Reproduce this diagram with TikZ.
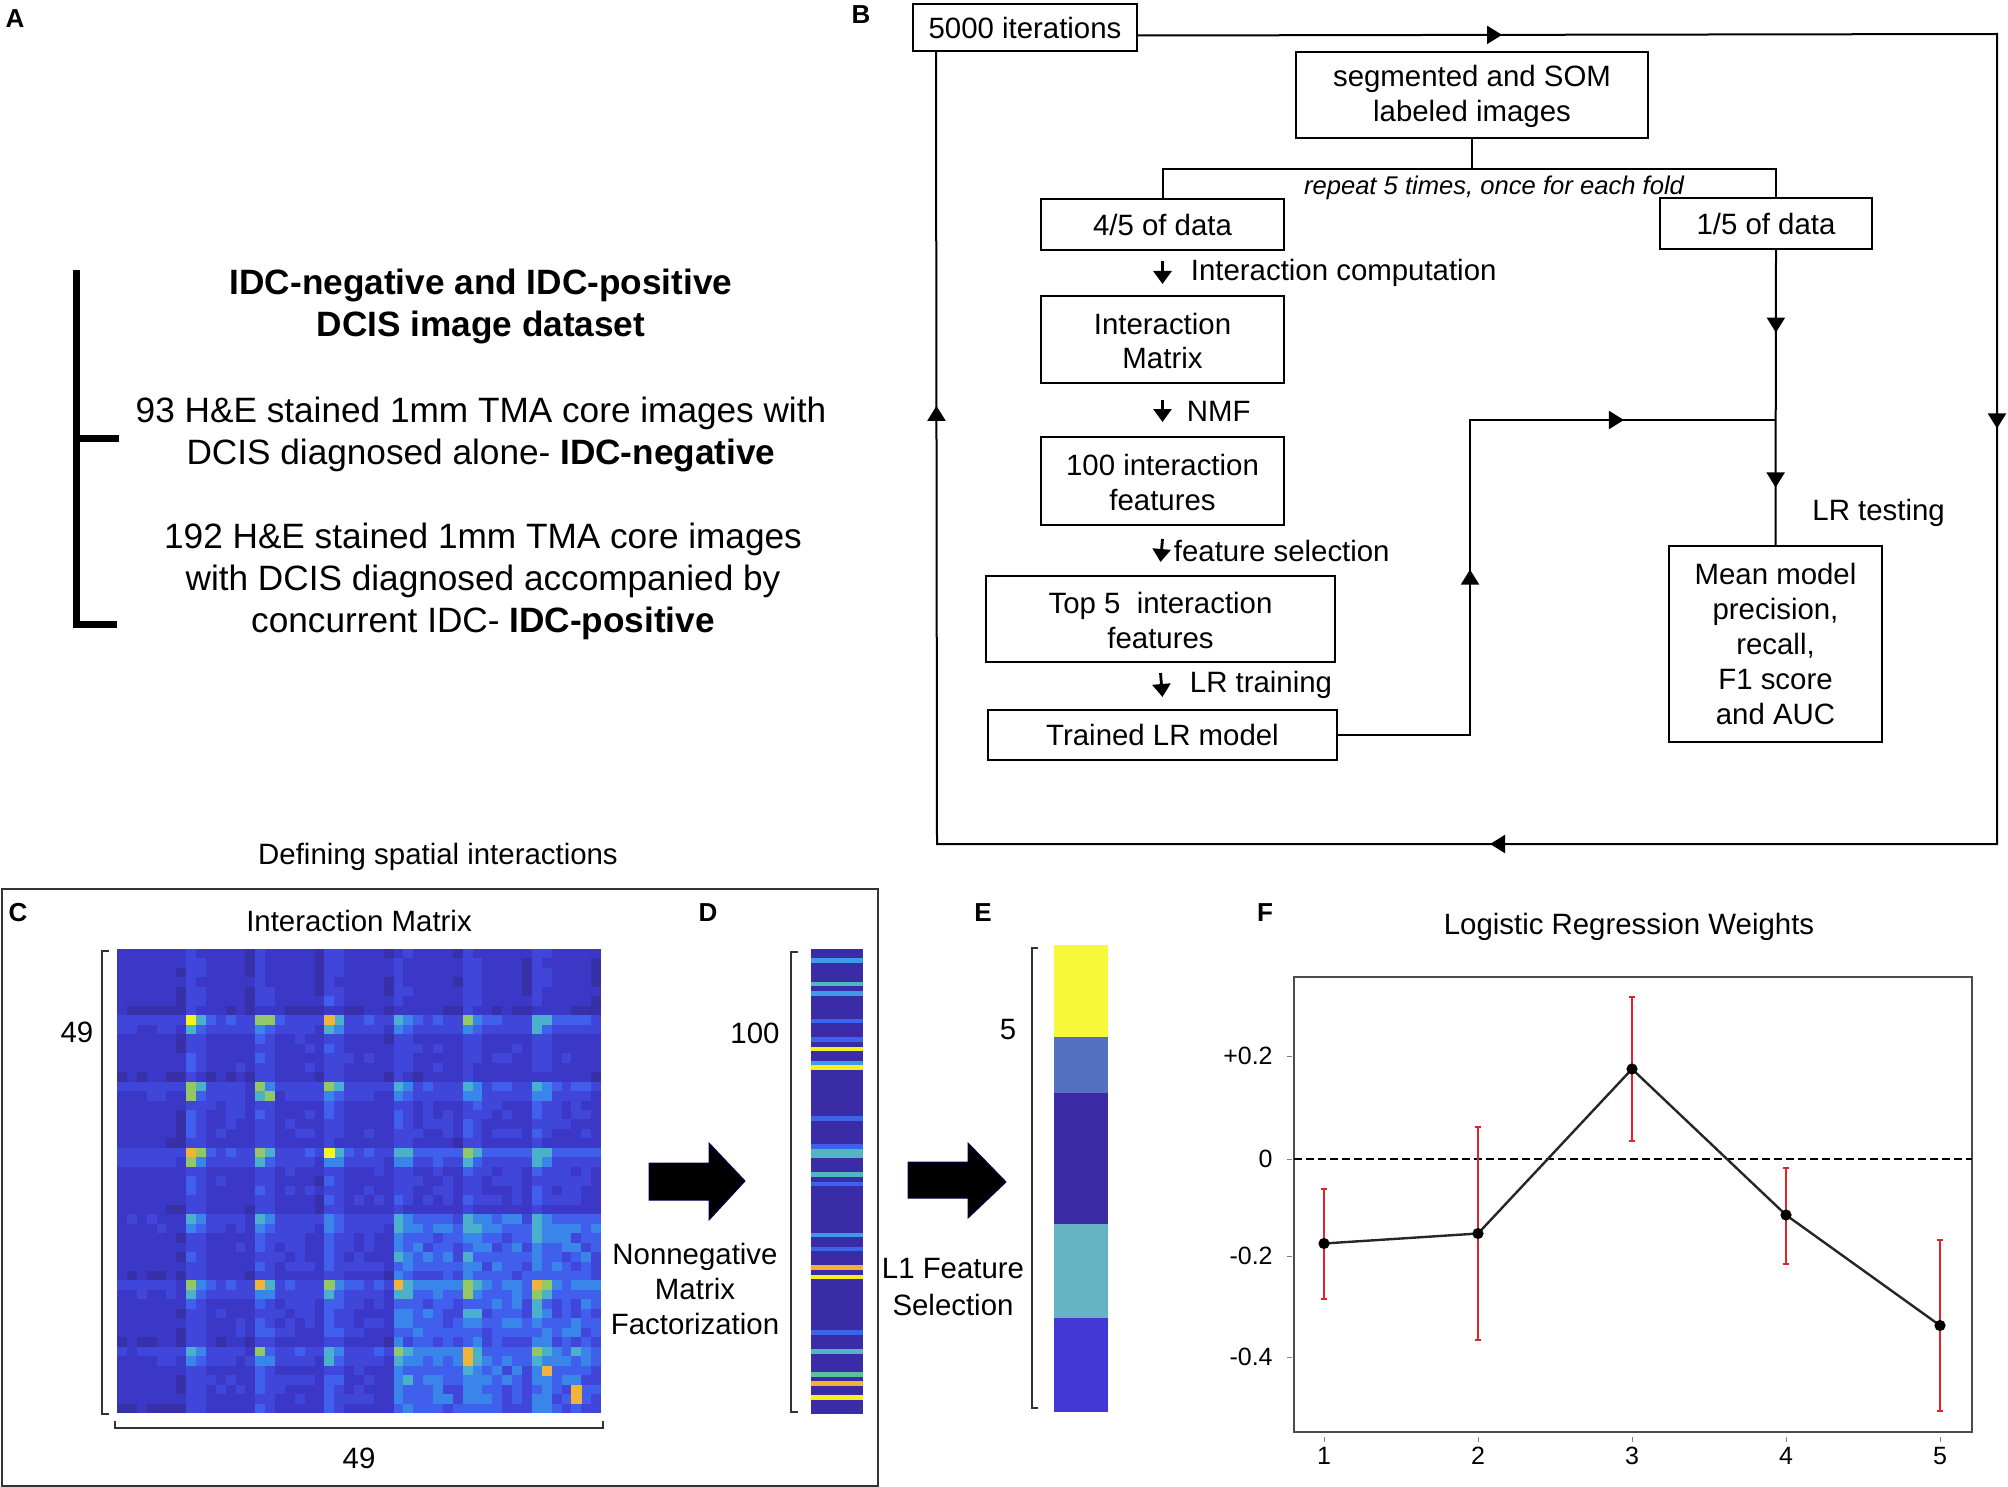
\documentclass[tikz,border=0pt]{standalone}
\usepackage{fontspec}
\setmainfont{Liberation Sans}
\usepackage{xcolor}
\definecolor{hm0}{HTML}{3730A8}
\definecolor{hm1}{HTML}{3B38C8}
\definecolor{hm2}{HTML}{4046DA}
\definecolor{hm3}{HTML}{3F5FEC}
\definecolor{hm4}{HTML}{3A85EA}
\definecolor{hm5}{HTML}{4AB0CC}
\definecolor{hm6}{HTML}{92C865}
\definecolor{hm7}{HTML}{F0B43A}
\definecolor{hm8}{HTML}{F8F31A}
\definecolor{navy}{HTML}{3A2CA6}
\definecolor{lblue}{HTML}{3D9BE8}
\definecolor{teal}{HTML}{52B6BF}
\definecolor{mblue}{HTML}{3F62EE}
\definecolor{yel}{HTML}{F6F01C}
\definecolor{ora}{HTML}{F2B134}
\definecolor{tgreen}{HTML}{5CC09A}
\definecolor{selA}{HTML}{F8F83A}
\definecolor{selB}{HTML}{5470C0}
\definecolor{selC}{HTML}{3A2BA5}
\definecolor{selD}{HTML}{64B4C4}
\definecolor{selE}{HTML}{4338D6}
\definecolor{errred}{HTML}{E8202A}
\usetikzlibrary{arrows.meta}
\usetikzlibrary{decorations.markings}

\begin{document}
\begin{tikzpicture}[x=0.5pt, y=-0.5pt,
    stage/.style={shape=rectangle, draw, line width=1pt, align=center, inner sep=0pt, font=\fontsize{14.7}{17.4}\selectfont},
    link/.style={line width=1pt},
    tipat/.style={postaction={decorate, decoration={markings, mark=at position #1 with {\arrow{Triangle[length=7.5pt, width=9pt]}}}}},
    pointer/.style={line width=1.4pt, -{Triangle[length=6.5pt, width=9pt]}},
    note/.style={inner sep=0pt, font=\fontsize{14.7}{17.4}\selectfont},
    tick/.style={inner sep=0pt, font=\fontsize{12.5}{14}\selectfont},
    panel/.style={inner sep=0pt, font=\fontsize{13}{13}\selectfont\bfseries},
    big/.style={inner sep=0pt, align=center, font=\fontsize{17.6}{21}\selectfont},
    bracket/.style={line width=0.6pt, draw=black!80},
    fat/.style={fill=black, draw=black!70!blue, line width=0.5pt}]

    \useasboundingbox (0,0) rectangle (2008,1487);

    \node[panel] (la) at (15,19) {A};
    \node[panel] (lb) at (861,15) {B};
    \node[panel] (lc) at (18,913) {C};
    \node[panel] (ld) at (708,913) {D};
    \node[panel] (le) at (983,913) {E};
    \node[panel] (lf) at (1265,913) {F};

    \draw[line width=3.5pt] (76,270) -- (76,624) -- (117,624);
    \draw[line width=3.5pt] (76,438) -- (119,438);
    \node[big, font=\fontsize{17.6}{21}\selectfont\bfseries] (dataset) at (481,306) {IDC-negative and IDC-positive\\DCIS image dataset};
    \node[big] (negset) at (481,434.5) {93 H\&E stained 1mm TMA core images with\\DCIS diagnosed alone- \textbf{IDC-negative}};
    \node[big] (posset) at (483,581) {192 H\&E stained 1mm TMA core images\\with DCIS diagnosed accompanied by\\concurrent IDC- \textbf{IDC-positive}};

    \node[stage, minimum width=112pt, minimum height=23.5pt] (iters) at (1025,27.5) {5000 iterations};
    \node[stage, minimum width=176pt, minimum height=43pt] (som) at (1472,95) {\strut segmented and SOM\\labeled images};
    \node[stage, minimum width=121.5pt, minimum height=25.5pt] (four) at (1162.5,224.5) {4/5 of data};
    \node[stage, minimum width=106pt, minimum height=25.5pt] (one) at (1766,223.5) {1/5 of data};
    \node[stage, minimum width=121.5pt, minimum height=43.5pt] (imat) at (1162.5,339.5) {\strut Interaction\\Matrix};
    \node[stage, minimum width=121.5pt, minimum height=44pt] (hund) at (1162.5,481) {\strut 100 interaction\\features};
    \node[stage, minimum width=174.5pt, minimum height=43pt] (top5) at (1160.5,619) {\strut Top 5\ \ interaction\\features};
    \node[stage, minimum width=174.5pt, minimum height=25pt] (trained) at (1162.5,735) {Trained LR model};
    \node[stage, minimum width=106.5pt, minimum height=98pt] (mean) at (1775.5,644) {Mean model\\precision,\\recall,\\F1 score\\and AUC};

    \coordinate (ne) at (1997,34);
    \coordinate (se) at (1997,844);
    \coordinate (sw) at (937,844);
    \coordinate (fork) at (1472,169);
    \coordinate (bend) at (1470,420);
    \coordinate (join) at (1776,420);

    \draw[link, tipat=0.1034, tipat=0.356, tipat=0.618, tipat=0.8995] ([yshift=-4pt]iters.east) -- (ne) -- (se) -- (sw) -- ([xshift=12pt]iters.south west);
    \draw[link] (som.south) -- (fork);
    \draw[link] (four.north) |- (fork) -| ([xshift=5pt]one.north);
    \node[note, font=\fontsize{12.8}{14}\selectfont\itshape] (fold) at (1494,188) {repeat 5 times, once for each fold};
    \draw[link, tipat=0.28, tipat=0.805] ([xshift=5pt]one.south) -- (mean.north);
    \draw[link, tipat=0.395, tipat=0.798] (trained.east) -| (bend) -- (join);
    \node[note, anchor=west] (test) at (1812,513) {LR testing};

    \draw[pointer] ([yshift=-5pt]four.south) -- node[note, right=13.5pt] {Interaction computation} ([yshift=5.5pt]imat.north);
    \draw[pointer] ([yshift=-8pt]imat.south) -- node[note, right=11.5pt] {NMF} ([yshift=7pt]hund.north);
    \draw[pointer] ([yshift=-6.5pt]hund.south) -- node[note, right=5.5pt] {feature selection} ([yshift=6.5pt]top5.north);
    \draw[pointer] ([yshift=-5pt]top5.south) -- node[note, right=13.5pt] {LR training} ([yshift=6pt]trained.north);

    \node[note] (spatial) at (438,857) {Defining spatial interactions};
    \draw[line width=1pt, draw=black!80] (1.5,889) rectangle (878,1485.5);
    \node[note] (imtitle) at (359,921) {Interaction Matrix};

    \pgfmathsetseed{11}
    \foreach \i in {0,...,48} {
        \foreach \j in {0,...,48} {
            \pgfmathtruncatemacro{\gi}{div(\i,7)}
            \pgfmathtruncatemacro{\ri}{mod(\i,7)}
            \pgfmathtruncatemacro{\gj}{div(\j,7)}
            \pgfmathtruncatemacro{\rj}{mod(\j,7)}
            \pgfmathsetmacro{\ai}{{0,1,0.7,1,0.5,0.8,0.6}[\gi]*((\ri==0)+0.6*(\ri==1))}
            \pgfmathsetmacro{\aj}{{0,1,0.9,1,0.6,0.8,0.7}[\gj]*((\rj==0)+0.6*(\rj==1))}
            \pgfmathsetmacro{\br}{(\gi>3)*(\gj>3)*(0.4+1.6*rnd)+(\gi>3)*(\gj>1)*0.3+(\gj>3)*(\gi>1)*0.3}
            \pgfmathtruncatemacro{\lev}{max(0,min(8,1.35+0.75*rnd+1.3*(\ai+\aj)+3.4*\ai*\aj*(0.5+0.7*rnd)+\br-0.3*((\gi==0)||(\gj==0))-0.4*((\ri==6)+(\rj==6))))}
            \fill[hm\lev] ({117+\j*9.878},{949+\i*9.47}) rectangle ++(10.3,9.9);
        }
    }
    \foreach \r/\c/\k in {7/7/8, 21/21/8, 7/21/7, 21/7/7, 44/43/7, 46/46/7, 47/46/7, 7/15/6, 15/7/6, 15/15/6, 35/7/6, 35/21/6, 35/35/6, 21/35/6, 7/35/6, 22/7/6, 14/7/6}
        \fill[hm\k] ({117+\c*9.878},{949+\r*9.47}) rectangle ++(10.3,9.9);

    \draw[bracket] (109,951) -- (102,951) -- (102,1414) -- (109,1414);
    \draw[bracket] (115,1421) -- (115,1428) -- (603,1428) -- (603,1421);
    \node[note] (rows) at (77,1032) {49};
    \node[note] (cols) at (359,1458) {49};

    \fill[fat] (649,1163) -- (709,1163) -- (709,1143) -- (745,1181) -- (709,1220) -- (709,1200) -- (649,1200) -- cycle;
    \node[note, align=center, font=\fontsize{14.7}{17.7}\selectfont] (nmf) at (695,1289) {Nonnegative\\Matrix\\Factorization};

    \fill[navy] (811,949) rectangle (863,1414);
    \foreach \r/\c in {2/lblue, 7/teal, 9/lblue, 15/mblue, 19/mblue, 21/yel, 24/lblue, 25/yel, 36/mblue, 42/mblue, 43/teal, 44/teal, 48/teal, 50/mblue, 61/lblue, 64/mblue, 68/ora, 70/yel, 82/mblue, 86/teal, 91/tgreen, 93/ora, 96/yel}
        \fill[\c] (811,{949+\r*4.65}) rectangle (863,{949+(\r+1)*4.65});
    \draw[bracket] (798,952) -- (791,952) -- (791,1412) -- (798,1412);
    \node[note] (hundred) at (755,1033) {100};

    \fill[fat] (908,1162) -- (968,1162) -- (968,1143) -- (1006,1182) -- (968,1218) -- (968,1198) -- (908,1198) -- cycle;
    \node[note, align=center, font=\fontsize{14.7}{18.5}\selectfont] (lone) at (953,1287) {L1 Feature\\Selection};

    \fill[selA] (1054,945) rectangle (1108,1037);
    \fill[selB] (1054,1037) rectangle (1108,1093);
    \fill[selC] (1054,1093) rectangle (1108,1224);
    \fill[selD] (1054,1224) rectangle (1108,1318);
    \fill[selE] (1054,1318) rectangle (1108,1412);
    \draw[bracket] (1038,948) -- (1032,948) -- (1032,1408) -- (1038,1408);
    \node[note] (five) at (1008,1030) {5};

    \node[note] (lrtitle) at (1629,927) {Logistic Regression Weights};
    \draw[draw=black!70, line width=0.8pt] (1294,977) rectangle (1972,1432);
    \draw[line width=1.3pt, dash pattern=on 4pt off 2pt] (1294,1159) -- (1972,1159);
    \foreach \v/\y in {+0.2/1056, 0/1159, -0.2/1256, -0.4/1357} {
        \node[tick, anchor=east] at (1273,\y) {\v};
        \draw[black!50, line width=0.5pt] (1287,\y) -- (1292,\y);
    }
    \foreach \k/\lo/\hi in {1/1298.5/1189, 2/1340/1126.5, 3/1141/997, 4/1263.5/1168, 5/1411/1239.5} {
        \pgfmathsetmacro{\xk}{1324+154*(\k-1)}
        \node[tick] at (\xk,1456) {\k};
        \draw[black!50, line width=0.5pt] (\xk,1437) -- (\xk,1442);
        \draw[errred, line width=1pt] (\xk,\lo) -- (\xk,\hi);
        \draw[errred, line width=1pt] ({\xk-3},\lo) -- ({\xk+3},\lo) ({\xk-3},\hi) -- ({\xk+3},\hi);
    }
    \draw[line width=1.2pt, draw=black!85] (1324,1243.5) -- (1478,1233.5) -- (1632,1069) -- (1786,1215) -- (1940,1325.5);
    \foreach \x/\y in {1324/1243.5, 1478/1233.5, 1632/1069, 1786/1215, 1940/1325.5}
        \fill (\x,\y) circle (2.8pt);
\end{tikzpicture}
\end{document}
